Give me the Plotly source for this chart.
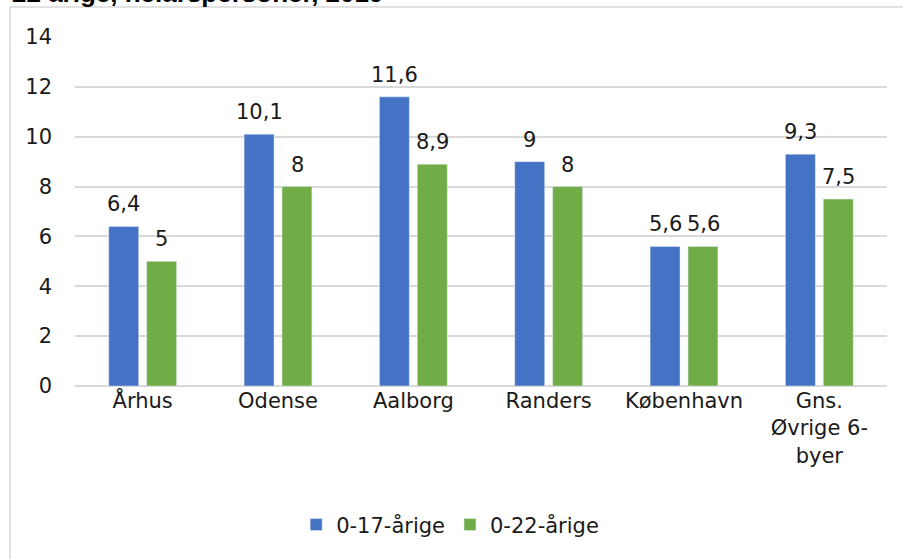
import plotly.graph_objects as go

categories = ["Århus", "Odense", "Aalborg", "Randers", "København", "Gns.<br>Øvrige 6-<br>byer"]
vals_17 = [6.4, 10.1, 11.6, 9.0, 5.6, 9.3]
vals_22 = [5.0, 8.0, 8.9, 8.0, 5.6, 7.5]
series_names = ["0-17-årige", "0-22-årige"]
title_text = "22 årige, helårspersoner, 2019"

def fmt(v):
    return f"{v:g}".replace(".", ",")

FONT = "DejaVu Sans, sans-serif"
TXT = "#1a1a1a"
fig = go.Figure()
annotations = []
for name, vals, col, shift in [(series_names[0], vals_17, "#4472C4", -19),
                               (series_names[1], vals_22, "#70AD47", 19)]:
    fig.add_trace(go.Bar(x=categories, y=vals, name=name, marker_color=col))
    for c, v in zip(categories, vals):
        annotations.append(dict(x=c, y=v, text=fmt(v), showarrow=False, xref="x", yref="y",
                                xshift=shift, yshift=22, yanchor="middle",
                                font=dict(size=21, color=TXT, family=FONT)))

annotations.append(dict(text="<b>" + title_text + "</b>", xref="paper", yref="paper", x=-0.080, y=1.078,
                        xanchor="left", yanchor="bottom", showarrow=False,
                        font=dict(size=26, color="#000000", family="Liberation Sans, Arial, sans-serif")))

fig.update_layout(
    width=903, height=559,
    paper_bgcolor="white", plot_bgcolor="white",
    margin=dict(l=75, r=16, t=37, b=173, autoexpand=False),
    barmode="group", bargap=0.44, bargroupgap=0.21,
    font=dict(family=FONT, size=21, color=TXT),
    showlegend=True,
    legend=dict(orientation="h", x=0.462, xanchor="center", y=-0.398, yanchor="middle",
                font=dict(size=21, color=TXT), itemwidth=30, tracegroupgap=0),
    xaxis=dict(showgrid=False, showline=False, ticks="", tickfont=dict(size=21)),
    yaxis=dict(range=[0, 14], dtick=2, showgrid=True, gridcolor="#d9d9d9", gridwidth=1.5,
               zeroline=True, zerolinecolor="#d9d9d9", zerolinewidth=1.5,
               showline=False, ticks="", tickfont=dict(size=21), ticklabelstandoff=22),
    shapes=[dict(type="rect", xref="paper", yref="paper", x0=-0.080, x1=1.05, y0=-0.6, y1=1.086,
                 line=dict(color="#d9d9d9", width=1.5), layer="below")],
    annotations=annotations,
)
fig.write_html("out.html", config={"displayModeBar": False},
               post_script="document.body.style.margin='0';document.body.style.overflow='hidden';")
